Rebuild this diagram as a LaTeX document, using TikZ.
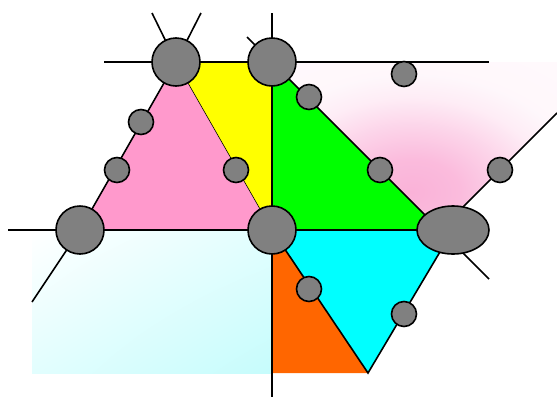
\documentclass[tikz,border=0pt]{standalone}
\usetikzlibrary{shapes.geometric,shadings}
\definecolor{pinktri}{RGB}{255,153,204}
\definecolor{yel}{RGB}{255,255,0}
\definecolor{grn}{RGB}{0,255,0}
\definecolor{cyn}{RGB}{0,255,255}
\definecolor{orng}{RGB}{255,102,0}
\definecolor{dotgray}{RGB}{128,128,128}
\definecolor{pinkglow}{RGB}{250,178,216}
\definecolor{cyanlight}{RGB}{198,252,252}
\definecolor{cyanmid}{RGB}{226,254,254}
\pgfdeclareradialshading{pinkglowshade}{\pgfpoint{0bp}{0bp}}{%
  color(0bp)=(pinkglow); color(3.5bp)=(pinkglow!88); color(7bp)=(pinkglow!55);
  color(10bp)=(pinkglow!24); color(12.5bp)=(pinkglow!10); color(25bp)=(pinkglow!4); color(50bp)=(pinkglow!4)}
\begin{document}
\begin{tikzpicture}[x=1pt,y=-1pt,
  edge/.style={line width=1.6pt, black},
  bigdot/.style={circle, draw=black, line width=1.6pt, fill=dotgray, minimum size=48pt, inner sep=0pt},
  smalldot/.style={circle, draw=black, line width=1.6pt, fill=dotgray, minimum size=25pt, inner sep=0pt},
  ovaldot/.style={ellipse, draw=black, line width=1.6pt, fill=dotgray, minimum width=72pt, minimum height=48pt, inner sep=0pt}]
\useasboundingbox (0,0) rectangle (557,397);
% main points
\coordinate (A) at (176,62);
\coordinate (B) at (272,62);
\coordinate (C) at (80,230);
\coordinate (D) at (272,230);
\coordinate (E) at (453,230);
\coordinate (P) at (440,230);
\coordinate (Q) at (368,373);
\coordinate (R) at (272,373);
% free ends
\coordinate (a1) at (152,13);
\coordinate (a2) at (201,13);
\coordinate (h1) at (104,62);
\coordinate (h2) at (489,62);
\coordinate (v1) at (272,13);
\coordinate (v2) at (272,397);
\coordinate (b1) at (247,37);
\coordinate (g1) at (8,230);
\coordinate (c1) at (32,302);
\coordinate (p1) at (557,113);
\coordinate (p2) at (489,279);
\coordinate (tr) at (557,62);
% gradient regions
\shade[upper left=white, upper right=cyanmid, lower left=cyanmid, lower right=cyanlight] (32,230) rectangle (272,373);
\begin{scope}
  \clip (B) -- (tr) -- (p1) -- (P) -- cycle;
  \shade[shading=pinkglowshade] (412,192) ellipse [x radius=340, y radius=236];
\end{scope}
% coloured faces
\fill[pinktri] (A) -- (C) -- (D) -- cycle;
\fill[yel] (A) -- (B) -- (D) -- cycle;
\fill[grn] (B) -- (P) -- (D) -- cycle;
\fill[cyn] (D) -- (E) -- (Q) -- cycle;
\fill[orng] (D) -- (Q) -- (R) -- cycle;
\draw[line width=0.6pt] (A) -- (D);
% edges
\draw[edge] (h1) -- (h2);
\draw[edge] (A) -- (a1);
\draw[edge] (A) -- (a2);
\draw[edge] (v1) -- (v2);
\draw[edge] (B) -- (b1);
\draw[edge] (g1) -- (E);
\draw[edge] (A) -- (C) -- (c1);
\draw[edge] (B) -- (p2);
\draw[edge] (P) -- (p1);
\draw[edge] (D) -- (Q) -- (E);
% vertices
\node[bigdot] (nA) at (A) {};
\node[bigdot] (nB) at (B) {};
\node[bigdot] (nC) at (C) {};
\node[bigdot] (nD) at (D) {};
\node[ovaldot] (nE) at (E) {};
\node[smalldot] (s1) at (141,122) {};
\node[smalldot] (s2) at (117,170) {};
\node[smalldot] (s3) at (236,170) {};
\node[smalldot] (s4) at (404,74) {};
\node[smalldot] (s5) at (309,97) {};
\node[smalldot] (s6) at (380,170) {};
\node[smalldot] (s7) at (500,170) {};
\node[smalldot] (s8) at (309,289) {};
\node[smalldot] (s9) at (404,314) {};
\end{tikzpicture}
\end{document}
